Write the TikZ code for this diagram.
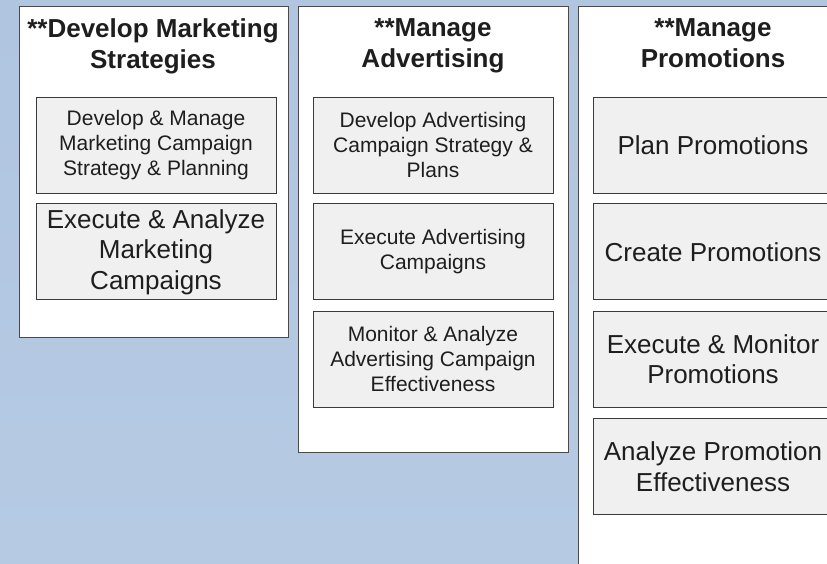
\documentclass[tikz,border=0pt]{standalone}
\usepackage{fontspec}
\setmainfont{Liberation Sans}
\usetikzlibrary{positioning}
\definecolor{bgtop}{HTML}{B0C5E0}
\definecolor{bgbot}{HTML}{B6CAE4}
\definecolor{panelline}{HTML}{4A4A4A}
\definecolor{boxline}{HTML}{3A3A3A}
\definecolor{boxfill}{HTML}{F0F0F0}
\definecolor{inktext}{HTML}{1E1E1E}
\tikzset{
	panel/.style={draw=panelline, fill=white, line width=1pt, anchor=north west, inner sep=0pt},
	ptitle/.style={font=\fontsize{26}{31}\selectfont\bfseries, align=center, text=inktext, inner sep=0pt, anchor=north},
	taskbox/.style={draw=boxline, fill=boxfill, line width=0.9pt, minimum width=240pt, minimum height=96pt, align=center, inner sep=0pt, text=inktext},
	smalltext/.style={font=\fontsize{21}{25}\selectfont},
	bigtext/.style={font=\fontsize{26}{30.5}\selectfont}
}

\begin{document}
\begin{tikzpicture}[x=1pt, y=-1pt]
			%%%%% START %%%%%
			
			\fill[top color=bgtop, bottom color=bgbot] (0, 0) rectangle (827, 563);
			\useasboundingbox (0, 0) rectangle (827, 563);
			\clip (0, 0) rectangle (827, 563);
			
			% columns
			\node[panel, minimum width=269pt, minimum height=331pt] (strat) at (19, 6) {};
			\node[panel, minimum width=270pt, minimum height=446pt] (advert) at (298, 6) {};
			\node[panel, minimum width=270pt, minimum height=600pt] (promo) at (578, 6) {};
			
			\node[ptitle] (strattitle) at (153, 18) {**Develop Marketing\\Strategies};
			\node[ptitle] (adverttitle) at (433, 18) {**Manage\\Advertising};
			\node[ptitle] (promotitle) at (713, 18) {**Manage\\Promotions};
			
			% develop marketing strategies
			\node[taskbox, smalltext] (stratA) at (156, 145) {Develop \& Manage\\Marketing Campaign\\Strategy \& Planning};
			\node[taskbox, bigtext, below=10pt of stratA] (stratB) {Execute \& Analyze\\Marketing\\Campaigns};
			
			% manage advertising
			\node[taskbox, smalltext] (advertA) at (433, 145) {Develop Advertising\\Campaign Strategy \&\\Plans};
			\node[taskbox, smalltext, below=10pt of advertA] (advertB) {Execute Advertising\\Campaigns};
			\node[taskbox, smalltext, below=10.5pt of advertB] (advertC) {Monitor \& Analyze\\Advertising Campaign\\Effectiveness};
			
			% manage promotions
			\node[taskbox, bigtext] (promoA) at (713, 145) {Plan Promotions};
			\node[taskbox, bigtext, below=10pt of promoA] (promoB) {Create Promotions};
			\node[taskbox, bigtext, below=10.5pt of promoB] (promoC) {Execute \& Monitor\\Promotions};
			\node[taskbox, bigtext, below=10.5pt of promoC] (promoD) {Analyze Promotion\\Effectiveness};
			
			%%%%% END %%%%%
\end{tikzpicture}
\end{document}
